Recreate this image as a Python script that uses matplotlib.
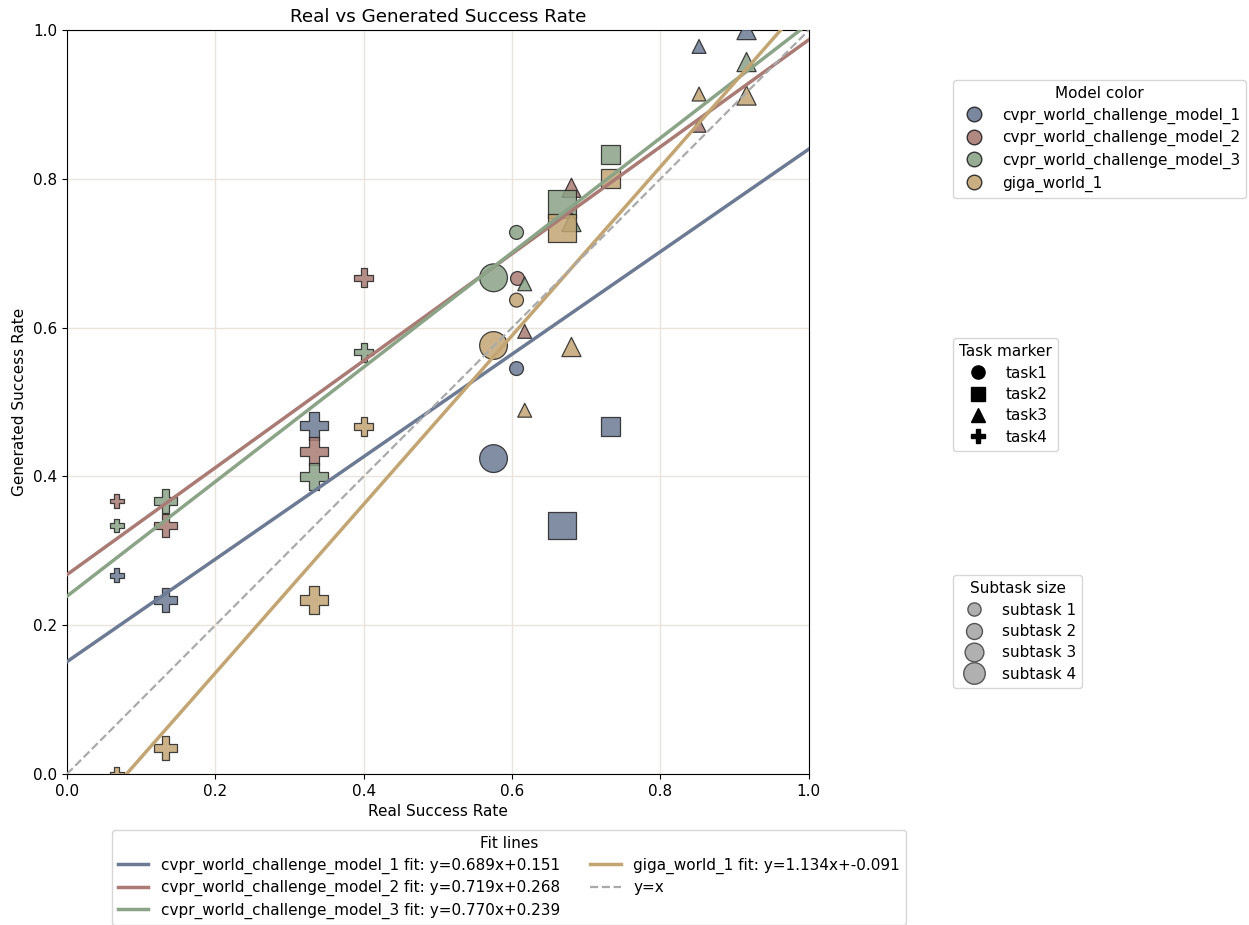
#scatter real vs generated success rate
import matplotlib.pyplot as plt
from matplotlib.lines import Line2D
import numpy as np

models = ['cvpr_world_challenge_model_1', 'cvpr_world_challenge_model_2',
          'cvpr_world_challenge_model_3', 'giga_world_1']
tasks = ['task1', 'task2', 'task3', 'task4']

# one entry per (task, subtask) point group
point_task = [1, 1, 2, 2, 3, 3, 3, 3, 4, 4, 4, 4]
point_sub = [1, 4, 2, 4, 1, 2, 1, 2, 1, 3, 4, 2]
real_rate = [0.606, 0.575, 0.733, 0.667, 0.617, 0.680, 0.852, 0.916,
             0.067, 0.133, 0.333, 0.400]

# generated rate per model (None = not visible in the chart)
gen_m1 = [0.545, 0.424, 0.467, 0.334, None, None, 0.978, 1.000, 0.267, 0.234, 0.468, None]
gen_m2 = [0.667, None, None, None, 0.595, 0.788, 0.872, None, 0.367, 0.334, 0.434, 0.667]
gen_m3 = [0.728, 0.667, 0.833, 0.766, 0.659, 0.742, None, 0.957, 0.334, 0.367, 0.400, 0.567]
gen_m4 = [0.637, 0.576, 0.800, 0.734, 0.489, 0.574, 0.914, 0.912, 0.000, 0.035, 0.234, 0.467]
gen_all = [gen_m1, gen_m2, gen_m3, gen_m4]

# fit coefficients (slope, intercept)
fit_slope = [0.689, 0.719, 0.770, 1.134]
fit_icpt = [0.151, 0.268, 0.239, -0.091]

colors = ['#6c7a94', '#a97b74', '#8ba387', '#c3a573']
markers = {1: 'o', 2: 's', 3: '^', 4: 'P'}
sizes = {1: 100, 2: 190, 3: 280, 4: 400}

plt.rcParams['font.size'] = 11
plt.rcParams['legend.labelspacing'] = 0.42
fig = plt.figure(figsize=(12.49, 9.25), dpi=100)
ax = fig.add_axes([0.0536, 0.1632, 0.594, 0.8043])
ax.grid(True, color='#e9e5dc', linewidth=1.0)
ax.set_axisbelow(True)

for m in range(len(models)):
    for t in range(1, 5):
        xs, ys, ss = [], [], []
        for i in range(len(real_rate)):
            if point_task[i] == t and gen_all[m][i] is not None:
                xs.append(real_rate[i])
                ys.append(gen_all[m][i])
                ss.append(sizes[point_sub[i]])
        if xs:
            ax.scatter(xs, ys, s=ss, marker=markers[t], color=colors[m],
                       edgecolor='#222222', linewidth=0.9, alpha=0.85, zorder=3)

xx = np.array([0.0, 1.0])
fit_handles = []
for m in range(len(models)):
    ln, = ax.plot(xx, fit_slope[m] * xx + fit_icpt[m], color=colors[m], lw=2.5, zorder=4,
                  label='%s fit: y=%.3fx+%.3f' % (models[m], fit_slope[m], fit_icpt[m]))
    fit_handles.append(ln)
idl, = ax.plot(xx, xx, color='#aaaaaa', ls='--', lw=1.6, zorder=4, label='y=x')

ax.set_xlim(0, 1)
ax.set_ylim(0, 1)
ax.set_xticks(np.arange(0, 1.01, 0.2))
ax.set_yticks(np.arange(0, 1.01, 0.2))
ax.set_title('Real vs Generated Success Rate', fontsize=13.2)
ax.set_xlabel('Real Success Rate')
ax.set_ylabel('Generated Success Rate')

# legends
h_model = [Line2D([], [], ls='', marker='o', markersize=10.5, markerfacecolor=c,
                  markeredgecolor='#222222', alpha=0.9) for c in colors]
leg1 = fig.legend(h_model, models, title='Model color', loc='upper left',
                  bbox_to_anchor=(0.763, 0.9135), borderaxespad=0)

h_task = [Line2D([], [], ls='', marker=markers[t], markersize=9.5, color='black')
          for t in range(1, 5)]
leg2 = fig.legend(h_task, tasks, title='Task marker', loc='upper left',
                  bbox_to_anchor=(0.763, 0.6346), borderaxespad=0)

sub_ms = [9.5, 11.5, 13.5, 15.5]
h_sub = [Line2D([], [], ls='', marker='o', markersize=ms, markerfacecolor='#b0b0b0',
                markeredgecolor='#555555') for ms in sub_ms]
leg3 = fig.legend(h_sub, ['subtask 1', 'subtask 2', 'subtask 3', 'subtask 4'],
                  title='Subtask size', loc='upper left',
                  bbox_to_anchor=(0.763, 0.3784), borderaxespad=0)

fig.legend(fit_handles + [idl], [h.get_label() for h in fit_handles + [idl]],
           title='Fit lines', loc='upper center', ncol=2,
           bbox_to_anchor=(0.4075, 0.1027), borderaxespad=0)

plt.savefig('out.png', dpi=100)
